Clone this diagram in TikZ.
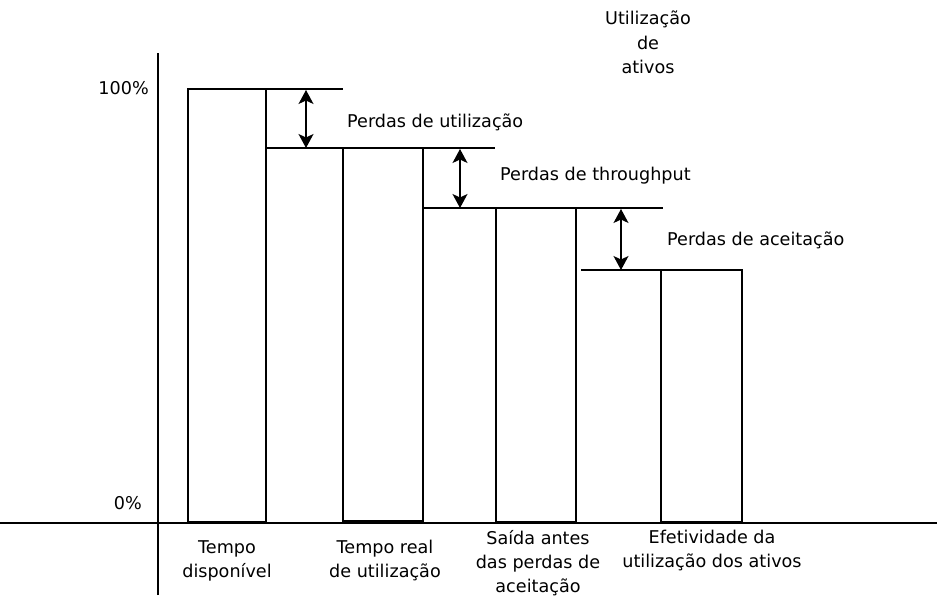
\documentclass[tikz,border=0pt]{standalone}
\usepackage{fontspec}
\setmainfont{DejaVu Sans}
\usetikzlibrary{arrows.meta}
\begin{document}
\begin{tikzpicture}[x=1pt,y=-1pt,
  barline/.style={line width=2.6pt},
  axisline/.style={line width=2.4pt},
  levelarrow/.style={line width=1.3pt,{Stealth[length=14pt,width=15pt,inset=3.5pt]}-{Stealth[length=14pt,width=15pt,inset=3.5pt]}},
  lbl/.style={inner sep=0pt,font=\fontsize{17.6}{24.2}\selectfont},
  mlbl/.style={lbl,align=center,anchor=north}]
\useasboundingbox (0,0) rectangle (937,598);
% axes
\coordinate (yb) at (158,595);
\coordinate (yt) at (158,53);
\coordinate (xl) at (0,523);
\coordinate (xr) at (937,523);
\draw[axisline] (yb) -- (yt);
\draw[axisline] (xl) -- (xr);
% levels
\coordinate (l1a) at (306,90);  \coordinate (l1b) at (306,148);
\coordinate (l2a) at (460,149); \coordinate (l2b) at (460,208);
\coordinate (l3a) at (621,209); \coordinate (l3b) at (621,270);
% bars
\draw[barline] (188,89) rectangle (266,522);
\draw[barline] (266,89) -- (343,89);
\draw[barline] (266,148) -- (495,148);
\draw[barline] (343,148) rectangle (423,521);
\draw[barline] (423,208) -- (663,208);
\draw[barline] (496,208) rectangle (576,522);
\draw[barline] (581,270) -- (742,270);
\draw[barline] (661,270) rectangle (742,522);
% arrows
\draw[levelarrow] (l1a) -- (l1b);
\draw[levelarrow] (l2a) -- (l2b);
\draw[levelarrow] (l3a) -- (l3b);
% labels
\node[lbl,anchor=base west] (pu) at (347,127) {Perdas de utilização};
\node[lbl,anchor=base west] (pt) at (500,180) {Perdas de throughput};
\node[lbl,anchor=base west] (pa) at (667,245) {Perdas de aceitação};
\node[lbl,anchor=base east] (p100) at (149,94) {100\%};
\node[lbl,anchor=base east] (p0) at (142,509) {0\%};
\node[mlbl] (title) at (648,11) {Utilização\\de\\ativos};
\node[mlbl] (b1) at (227,540) {Tempo\\disponível};
\node[mlbl] (b2) at (385,540) {Tempo real\\de utilização};
\node[mlbl] (b3) at (538,530) {Saída antes\\das perdas de\\aceitação};
\node[mlbl] (b4) at (712,530) {Efetividade da\\utilização dos ativos};
\end{tikzpicture}
\end{document}
